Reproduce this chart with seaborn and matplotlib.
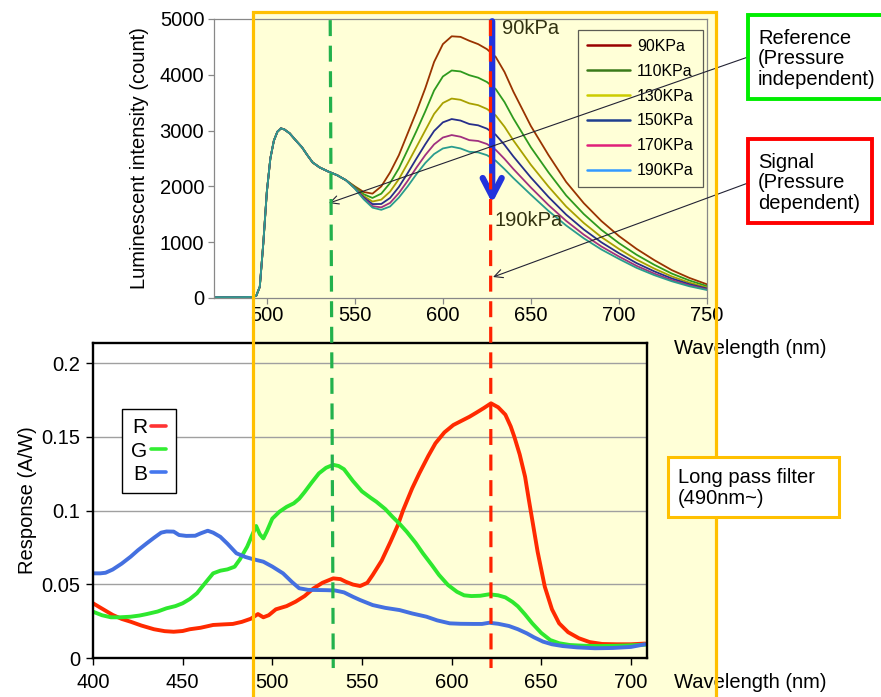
import numpy as np
import pandas as pd
import matplotlib
matplotlib.use("Agg")
import matplotlib.pyplot as plt
import seaborn as sns
from matplotlib.patches import Rectangle
from matplotlib.lines import Line2D

# ---------------- data: top panel (luminescence spectra) ----------------
pressures = ["90KPa", "110KPa", "130KPa", "150KPa", "170KPa", "190KPa"]
nm_head = [470, 485, 492, 494, 496, 498, 500, 502, 504, 506, 508, 510, 513, 516,
           520, 523, 526, 530, 535, 540, 545]
cnt_head = [15, 15, 20, 40, 200, 980, 1900, 2500, 2820, 2980, 3040, 3020, 2950, 2840,
            2700, 2560, 2430, 2340, 2265, 2200, 2110]
nm_tail = [550, 555, 560, 565, 570, 575, 580, 585, 590, 595, 600, 605, 610, 615, 620,
           625, 630, 635, 640, 650, 660, 670, 680, 690, 700, 710, 720, 730, 740, 750]
c90 = [2000, 1900, 1870, 2000, 2250, 2560, 2950, 3340, 3760, 4230, 4550, 4690, 4680, 4610, 4550,
       4460, 4320, 4050, 3700, 3080, 2560, 2080, 1700, 1380, 1110, 880, 680, 500, 360, 245]
c110 = [1988, 1860, 1793, 1870, 2061, 2324, 2656, 2993, 3345, 3719, 3970, 4077, 4060, 3993, 3949,
        3871, 3743, 3511, 3220, 2699, 2250, 1838, 1505, 1222, 983, 775, 596, 438, 314, 213]
c130 = [1977, 1827, 1729, 1763, 1906, 2131, 2414, 2708, 3004, 3299, 3495, 3574, 3552, 3488, 3456,
        3388, 3271, 3069, 2826, 2386, 1996, 1640, 1345, 1092, 879, 688, 528, 387, 275, 187]
c150 = [1970, 1803, 1683, 1685, 1793, 1990, 2238, 2500, 2755, 2993, 3148, 3207, 3180, 3118, 3095,
        3035, 2925, 2745, 2538, 2158, 1810, 1495, 1228, 998, 803, 625, 478, 350, 248, 169]
c170 = [1964, 1784, 1646, 1624, 1704, 1880, 2100, 2338, 2561, 2753, 2876, 2920, 2890, 2829, 2814,
        2760, 2655, 2493, 2313, 1979, 1665, 1382, 1136, 924, 743, 576, 438, 321, 226, 154]
c190 = [1960, 1770, 1620, 1580, 1640, 1800, 2000, 2220, 2420, 2580, 2680, 2712, 2680, 2620, 2610,
        2560, 2460, 2310, 2150, 1850, 1560, 1300, 1070, 870, 700, 540, 410, 300, 210, 143]
tails = [c90, c110, c130, c150, c170, c190]

# ---------------- data: bottom panel (RGB response) ----------------
r_nm = [400, 405, 411, 416, 421, 427, 434, 440, 445, 450, 454, 460, 467, 473, 478, 483, 488, 492,
        495, 498, 502, 508, 513, 518, 523, 528, 534, 538, 541, 545, 549, 553, 556, 561, 566, 570,
        573, 578, 582, 587, 591, 596, 601, 605, 610, 614, 618, 622, 626, 630, 633, 635, 638, 641,
        643, 645, 648, 652, 656, 660, 665, 671, 677, 684, 692, 700, 708]
r_val = [0.0371, 0.0335, 0.0292, 0.0265, 0.0246, 0.0220, 0.0195, 0.0182, 0.0178, 0.0183, 0.0195,
         0.0205, 0.0224, 0.0228, 0.0231, 0.0245, 0.0266, 0.0298, 0.0276, 0.0290, 0.0330, 0.0352,
         0.0382, 0.0420, 0.0472, 0.0510, 0.0540, 0.0535, 0.0517, 0.0498, 0.0488, 0.0510, 0.0563,
         0.0660, 0.0790, 0.0900, 0.1003, 0.1150, 0.1252, 0.1370, 0.1456, 0.1530, 0.1580, 0.1605,
         0.1636, 0.1665, 0.1695, 0.1727, 0.1700, 0.1650, 0.1570, 0.1500, 0.1380, 0.1229, 0.1080,
         0.0936, 0.0720, 0.0483, 0.0330, 0.0235, 0.0175, 0.0134, 0.0108, 0.0095, 0.0093, 0.0093,
         0.0098]
g_nm = [400, 405, 410, 415, 421, 426, 430, 436, 441, 446, 450, 454, 458, 462, 467, 471, 475, 479,
        482, 486, 489, 491, 493, 495, 497, 500, 504, 508, 512, 515, 518, 522, 526, 530, 534, 537,
        540, 545, 550, 555, 558, 563, 567, 571, 575, 580, 584, 589, 593, 598, 603, 607, 611, 616,
        621, 626, 630, 634, 637, 641, 645, 650, 655, 660, 666, 674, 683, 692, 700, 708]
g_val = [0.0314, 0.0290, 0.0276, 0.0276, 0.0280, 0.0288, 0.0298, 0.0315, 0.0337, 0.0352, 0.0371,
         0.0400, 0.0439, 0.0500, 0.0574, 0.0592, 0.0601, 0.0619, 0.0670, 0.0755, 0.0840, 0.0895,
         0.0840, 0.0811, 0.0860, 0.0945, 0.0992, 0.1025, 0.1049, 0.1080, 0.1125, 0.1190, 0.1252,
         0.1290, 0.1310, 0.1302, 0.1280, 0.1200, 0.1130, 0.1085, 0.1060, 0.1010, 0.0958, 0.0910,
         0.0856, 0.0780, 0.0710, 0.0630, 0.0563, 0.0495, 0.0449, 0.0425, 0.0420, 0.0422, 0.0432,
         0.0425, 0.0411, 0.0380, 0.0350, 0.0295, 0.0235, 0.0170, 0.0122, 0.0100, 0.0088, 0.0083,
         0.0081, 0.0083, 0.0086, 0.0090]
b_nm = [400, 404, 407, 411, 416, 421, 425, 430, 434, 438, 441, 445, 448, 452, 457, 460, 464, 467,
        471, 475, 480, 485, 489, 492, 495, 500, 506, 511, 515, 520, 525, 530, 535, 540, 545, 549,
        556, 563, 571, 578, 586, 592, 599, 605, 612, 617, 621, 626, 632, 637, 642, 646, 651, 656,
        662, 670, 680, 690, 700, 708]
b_val = [0.0574, 0.0574, 0.0578, 0.0600, 0.0640, 0.0687, 0.0730, 0.0778, 0.0815, 0.0850, 0.0858,
         0.0857, 0.0834, 0.0828, 0.0829, 0.0845, 0.0863, 0.0850, 0.0822, 0.0775, 0.0710, 0.0685,
         0.0671, 0.0662, 0.0653, 0.0620, 0.0574, 0.0515, 0.0473, 0.0462, 0.0461, 0.0460, 0.0458,
         0.0445, 0.0415, 0.0393, 0.0359, 0.0340, 0.0325, 0.0302, 0.0280, 0.0255, 0.0235, 0.0232,
         0.0231, 0.0231, 0.0239, 0.0232, 0.0217, 0.0195, 0.0167, 0.0140, 0.0111, 0.0093, 0.0081,
         0.0072, 0.0066, 0.0068, 0.0075, 0.0093]
channels = ["R", "G", "B"]

# wavelengths marked by the dashed guide lines
ref_nm_top, ref_nm_bot = 536, 534
sig_nm_top, sig_nm_bot = 627, 622

# ---------------- style ----------------
line_colors = ["#993300", "#2E9A1E", "#A8A000", "#262E8A", "#A0307F", "#2A9C8E"]
legend_colors = ["#990000", "#3B7A1A", "#CCCC00", "#1F3F8F", "#E0207A", "#3399FF"]
rgb_colors = {"R": "#FF2A00", "G": "#2EE82E", "B": "#4470E0"}
rgb_legend = ["#FF3333", "#33EE33", "#4477EE"]

sns.set_theme(style="white", rc={"text.color": "black", "axes.labelcolor": "black",
                                 "xtick.color": "black", "ytick.color": "black"})
plt.rcParams["font.family"] = ["Liberation Sans", "DejaVu Sans"]
FS = 14.5

W, H = 881, 697
fig = plt.figure(figsize=(W / 100, H / 100), dpi=100)
fig.patch.set_facecolor("white")


def fx(x):
    return x / W


def fy(y):
    return 1 - y / H


# yellow "long pass" region fill (behind the axes)
fig.patches.append(Rectangle((fx(253), fy(705)), fx(716) - fx(253), fy(12) - fy(705),
                             transform=fig.transFigure, facecolor="#FFFFD7",
                             edgecolor="none", zorder=-10))

# ---------------- top axes ----------------
rows = []
for p, tail in zip(pressures, tails):
    for x, v in zip(nm_head + nm_tail, cnt_head + tail):
        rows.append((x, v, p))
top_df = pd.DataFrame(rows, columns=["nm", "count", "pressure"])

ax1 = fig.add_axes([fx(214), fy(298), fx(707) - fx(214), fy(19) - fy(298)])
ax1.set_facecolor("none")
sns.lineplot(data=top_df, x="nm", y="count", hue="pressure", hue_order=pressures,
             palette=dict(zip(pressures, line_colors)), estimator=None, linewidth=1.3,
             legend=False, ax=ax1)
ax1.set_xlim(470, 750)
ax1.set_ylim(0, 5000)
ax1.set_xticks(np.arange(500, 751, 50))
ax1.set_yticks(np.arange(0, 5001, 1000))
for s in ax1.spines.values():
    s.set_color("#888888")
    s.set_linewidth(0.9)
ax1.tick_params(axis="both", direction="out", length=4, width=0.9, color="#888888",
                labelsize=FS, bottom=True, left=True)
ax1.tick_params(axis="x", pad=2)
ax1.tick_params(axis="y", pad=3)
ax1.set_xlabel("")
ax1.set_ylabel("Luminescent intensity (count)", fontsize=FS, labelpad=8)

handles = [Line2D([], [], color=c, lw=1.8) for c in legend_colors]
leg1 = ax1.legend(handles, pressures, loc="upper left", bbox_to_anchor=(fx(578), fy(30)),
                  bbox_transform=fig.transFigure, fontsize=11.5, handlelength=2.7,
                  handletextpad=0.45, labelspacing=0.62, borderpad=0.55, borderaxespad=0,
                  fancybox=False, frameon=True)
leg1.get_frame().set_edgecolor("#333333")
leg1.get_frame().set_facecolor("none")
leg1.get_frame().set_linewidth(0.9)

fig.text(fx(674), fy(348), "Wavelength (nm)", fontsize=FS, ha="left", va="center")

# ---------------- bottom axes ----------------
rows = []
for ch, xs, vs in zip(channels, [r_nm, g_nm, b_nm], [r_val, g_val, b_val]):
    for x, v in zip(xs, vs):
        rows.append((x, v, ch))
bot_df = pd.DataFrame(rows, columns=["nm", "resp", "ch"])

ax2 = fig.add_axes([fx(93), fy(658), fx(647) - fx(93), fy(343) - fy(658)])
ax2.set_facecolor("none")
sns.lineplot(data=bot_df, x="nm", y="resp", hue="ch", hue_order=channels,
             palette=rgb_colors, estimator=None, linewidth=2.8, legend=False, ax=ax2)
ax2.set_xlim(400, 709)
ax2.set_ylim(0, 0.2136)
ax2.set_xticks(np.arange(400, 701, 50))
ax2.set_yticks([0, 0.05, 0.1, 0.15, 0.2])
ax2.set_yticklabels(["0", "0.05", "0.1", "0.15", "0.2"])
ax2.yaxis.grid(True, color="#A0A0A0", linewidth=1.0)
ax2.set_axisbelow(True)
for s in ax2.spines.values():
    s.set_color("black")
    s.set_linewidth(1.7)
ax2.tick_params(axis="both", direction="out", length=5, width=1.0, color="black",
                labelsize=FS, bottom=True, left=True)
ax2.tick_params(axis="x", pad=6)
ax2.tick_params(axis="y", pad=4)
ax2.set_xlabel("")
ax2.set_ylabel("Response (A/W)", fontsize=FS, labelpad=3)

h2 = [Line2D([], [], color=c, lw=2.6) for c in rgb_legend]
leg2 = ax2.legend(h2, channels, loc="upper left", bbox_to_anchor=(fx(122), fy(409)),
                  bbox_transform=fig.transFigure, fontsize=15, markerfirst=False,
                  handlelength=0.75, handletextpad=0.15, labelspacing=0.2, borderpad=0.45,
                  borderaxespad=0, fancybox=False, frameon=True, framealpha=1)
leg2.get_frame().set_edgecolor("black")
leg2.get_frame().set_facecolor("white")
leg2.get_frame().set_linewidth(1.0)

fig.text(fx(674), fy(683), "Wavelength (nm)", fontsize=FS, ha="left", va="center")

# ---------------- overlays ----------------
inv = fig.transFigure.inverted()


def to_fig(ax, x, y):
    return inv.transform(ax.transData.transform((x, y)))


# yellow region border (drawn above the axes)
fig.patches.append(Rectangle((fx(253), fy(705)), fx(716) - fx(253), fy(12) - fy(705),
                             transform=fig.transFigure, facecolor="none",
                             edgecolor="#FFC000", linewidth=2.3, zorder=15))

for (nt, nb, col) in [(ref_nm_top, ref_nm_bot, "#22B14C"), (sig_nm_top, sig_nm_bot, "#FF2200")]:
    p0 = to_fig(ax1, nt, 4980)
    p1 = to_fig(ax2, nb, -0.0068)
    fig.add_artist(Line2D([p0[0], p1[0]], [p0[1], p1[1]], transform=fig.transFigure,
                          color=col, linewidth=2.3, linestyle=(0, (5, 3)), zorder=20))

# blue pressure arrow
ax1.annotate("", xy=(628, 1700), xytext=(628, 4960),
             arrowprops=dict(arrowstyle="->,head_length=1.1,head_width=0.57",
                             color="#2233DD", lw=4.5, shrinkA=0, shrinkB=0),
             annotation_clip=False, zorder=25)
fig.text(fx(502), fy(29), "90kPa", fontsize=FS, ha="left", va="center", color="#333311",
         zorder=26)
fig.text(fx(495), fy(220), "190kPa", fontsize=FS, ha="left", va="center", color="#333311",
         zorder=26)

# callout arrows
ax1.annotate("", xy=(535.3, 1700), xytext=(fx(748), fy(57)), textcoords="figure fraction",
             arrowprops=dict(arrowstyle="->,head_length=0.5,head_width=0.25", color="#222233",
                             lw=0.8, shrinkA=0, shrinkB=0),
             annotation_clip=False, zorder=27)
ax1.annotate("", xy=(628.5, 376), xytext=(fx(748), fy(183)), textcoords="figure fraction",
             arrowprops=dict(arrowstyle="->,head_length=0.5,head_width=0.25", color="#222233",
                             lw=0.8, shrinkA=0, shrinkB=0),
             annotation_clip=False, zorder=27)

# callout boxes
fig.patches.append(Rectangle((fx(748), fy(99)), fx(900) - fx(748), fy(15) - fy(99),
                             transform=fig.transFigure, facecolor="white",
                             edgecolor="#00EE00", linewidth=2.8, zorder=30))
fig.text(fx(758), fy(59), "Reference\n(Pressure\nindependent)", fontsize=FS, ha="left",
         va="center", linespacing=1.07, zorder=31)

fig.patches.append(Rectangle((fx(748), fy(223)), fx(872) - fx(748), fy(139) - fy(223),
                             transform=fig.transFigure, facecolor="white",
                             edgecolor="#FF0000", linewidth=2.8, zorder=30))
fig.text(fx(758), fy(183), "Signal\n(Pressure\ndependent)", fontsize=FS, ha="left",
         va="center", linespacing=1.07, zorder=31)

fig.patches.append(Rectangle((fx(668), fy(517)), fx(839) - fx(668), fy(457) - fy(517),
                             transform=fig.transFigure, facecolor="white",
                             edgecolor="#FFC000", linewidth=2.2, zorder=30))
fig.text(fx(678), fy(488), "Long pass filter\n(490nm~)", fontsize=FS, ha="left",
         va="center", linespacing=1.07, zorder=31)

fig.savefig("out.png", dpi=100)
